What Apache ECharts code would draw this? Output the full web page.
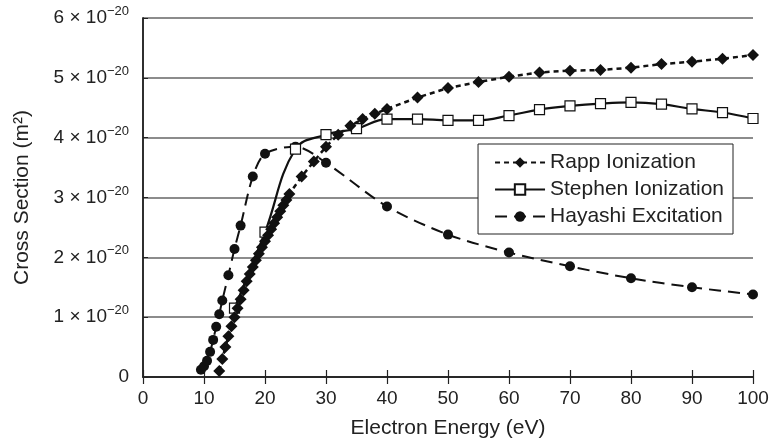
<!DOCTYPE html>
<html>
<head>
<meta charset="utf-8">
<script src="https://cdn.jsdelivr.net/npm/echarts@6/dist/echarts.min.js"></script>
<style>
  html, body { margin: 0; padding: 0; background: #fff; }
  #main { width: 772px; height: 444px; }
</style>
</head>
<body>
<div id="main"></div>
<script>
// values in units of 1e-20 m^2
var rappX = [12.5, 13, 13.5, 14, 14.5, 15, 15.5, 16, 16.5, 17, 17.5, 18, 18.5, 19, 19.5, 20,
  20.5, 21, 21.5, 22, 22.5, 23, 23.5, 24, 26, 28, 30, 32, 34, 36, 38, 40,
  45, 50, 55, 60, 65, 70, 75, 80, 85, 90, 95, 100];
var rappY = [0.1, 0.3, 0.5, 0.68, 0.85, 1.0, 1.15, 1.3, 1.45, 1.6, 1.72, 1.84, 1.95, 2.06, 2.17, 2.27,
  2.37, 2.47, 2.57, 2.67, 2.77, 2.87, 2.96, 3.06, 3.35, 3.6, 3.85, 4.05, 4.2, 4.31, 4.4, 4.48,
  4.67, 4.83, 4.93, 5.02, 5.09, 5.12, 5.13, 5.17, 5.23, 5.27, 5.32, 5.38];

var stephenX = [15, 20, 25, 30, 35, 40, 45, 50, 55, 60, 65, 70, 75, 80, 85, 90, 95, 100];
var stephenY = [1.15, 2.42, 3.81, 4.05, 4.15, 4.31, 4.31, 4.29, 4.29, 4.37, 4.47, 4.53, 4.57, 4.59, 4.56, 4.48, 4.42, 4.32];

var hayashiX = [9.5, 10, 10.5, 11, 11.5, 12, 12.5, 13, 14, 15, 16, 18, 20, 25, 30, 40, 50, 60, 70, 80, 90, 100];
var hayashiY = [0.12, 0.18, 0.27, 0.42, 0.62, 0.84, 1.05, 1.28, 1.7, 2.14, 2.53, 3.35, 3.73, 3.85, 3.58, 2.85, 2.38, 2.08, 1.85, 1.65, 1.5, 1.38];

var xTicks = [0, 10, 20, 30, 40, 50, 60, 70, 80, 90, 100];
var yTicks = [0, 1, 2, 3, 4, 5, 6];

function pairs(xs, ys) {
  return xs.map(function (x, i) { return [x, ys[i]]; });
}

var chart = echarts.init(document.getElementById('main'), null, { renderer: 'canvas' });
var font = 'Liberation Sans, Arial, sans-serif';

var option = {
  animation: false,
  textStyle: { fontFamily: font, color: '#222' },
  grid: { left: 143, right: 19, top: 18, bottom: 66, containLabel: false },
  legend: {
    orient: 'vertical',
    right: 39,
    top: 144,
    itemWidth: 50,
    itemHeight: 13,
    itemGap: 6,
    padding: [8, 9, 7, 16],
    borderColor: '#222',
    borderWidth: 1,
    backgroundColor: '#fff',
    textStyle: { fontSize: 21, color: '#222', fontFamily: font },
    data: ['Rapp Ionization', 'Stephen Ionization', 'Hayashi Excitation']
  },
  xAxis: [
    {
      type: 'value', min: 0, max: 100, interval: 10,
      name: 'Electron Energy (eV)', nameLocation: 'middle', nameGap: 41,
      nameTextStyle: { fontSize: 21, color: '#222' },
      axisLine: { lineStyle: { color: '#222', width: 1.5 } },
      axisTick: { inside: true, length: 7, lineStyle: { color: '#222', width: 1.2 } },
      axisLabel: { fontSize: 19, color: '#222', margin: 12 },
      splitLine: { show: false }
    },
    {
      type: 'value', position: 'top', min: 0, max: 100, interval: 10,
      axisLine: { lineStyle: { color: '#222', width: 1.5 } },
      axisTick: { inside: true, length: 7, lineStyle: { color: '#222', width: 1.2 } },
      axisLabel: { show: false },
      splitLine: { show: false }
    }
  ],
  yAxis: [
    {
      type: 'value', min: 0, max: 6, interval: 1,
      name: 'Cross Section (m\u00b2)', nameLocation: 'middle', nameGap: 110,
      nameTextStyle: { fontSize: 21, color: '#222' },
      axisLine: { show: true, lineStyle: { color: '#222', width: 1.5 } },
      axisTick: { inside: true, length: 5, lineStyle: { color: '#222' } },
      axisLabel: {
        margin: 14,
        formatter: function (v) {
          if (v === 0) return '{a|0}';
          return '{a|' + v + ' \u00d7 10}{s|\u221220}';
        },
        rich: {
          a: { fontSize: 19, color: '#222', fontFamily: font },
          s: { fontSize: 13, color: '#222', fontFamily: font, padding: [0, 0, 13, 0] }
        }
      },
      splitLine: { show: true, lineStyle: { color: '#666', width: 1.5 } }
    },
    {
      type: 'value', position: 'right', min: 0, max: 6, interval: 1,
      axisLine: { show: true, lineStyle: { color: '#222', width: 1.5 } },
      axisTick: { show: false },
      axisLabel: { show: false },
      splitLine: { show: false }
    }
  ],
  series: [
    {
      name: 'Hayashi Excitation', type: 'line', data: pairs(hayashiX, hayashiY),
      symbol: 'circle', symbolSize: 10,
      itemStyle: { color: '#111' },
      lineStyle: { color: '#111', width: 2, type: [12, 7] },
      smooth: 0.3, z: 2
    },
    {
      name: 'Stephen Ionization', type: 'line', data: pairs(stephenX, stephenY),
      symbol: 'rect', symbolSize: 10,
      itemStyle: { color: '#fff', borderColor: '#111', borderWidth: 1.2 },
      lineStyle: { color: '#111', width: 2.2 },
      smooth: 0.4, z: 3
    },
    {
      name: 'Rapp Ionization', type: 'line', data: pairs(rappX, rappY),
      symbol: 'diamond', symbolSize: 12,
      itemStyle: { color: '#111' },
      lineStyle: { color: '#111', width: 2.5, type: [5, 4] },
      z: 4
    }
  ]
};

chart.setOption(option);
</script>
</body>
</html>
